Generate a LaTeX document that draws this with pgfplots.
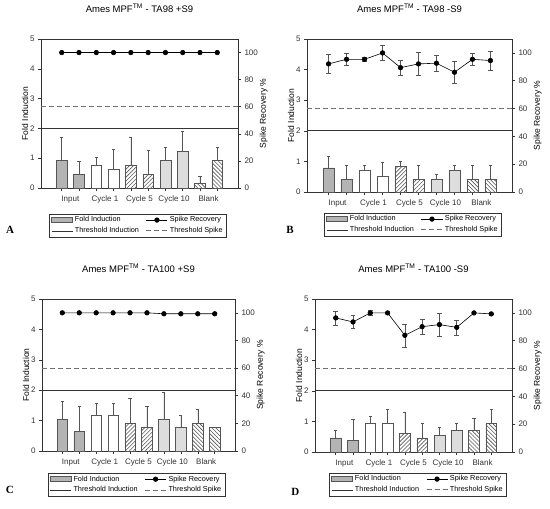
\documentclass[border=0pt]{standalone}
\usepackage{pgfplots}
\pgfplotsset{compat=1.18}
\usepackage{fontspec}
\setmainfont{Liberation Sans}
\newfontfamily\serifb{Liberation Serif}
\usetikzlibrary{patterns.meta}
\definecolor{edge}{HTML}{555555}
\definecolor{dkfill}{HTML}{B4B4B4}
\definecolor{ltfill}{HTML}{DDDDDD}
\definecolor{axc}{HTML}{333333}
\definecolor{dashc}{HTML}{707070}
\pgfplotsset{
  common/.style={scale only axis, anchor=south west, xmin=-0.2, xmax=11.2,
    tick align=outside, major tick length=3pt, minor tick length=3pt,
    tick style={axc, line width=0.5pt}, axis line style={axc, line width=0.6pt},
    label style={font=\fontsize{8.5}{10}\selectfont},
    ticklabel style={font=\fontsize{8}{9}\selectfont, text=axc},
    /pgf/number format/assume math mode=true, clip=false},
  leftax/.style={common, ymin=0, ymax=5, ytick={0,1,2,3,4,5},
    xtick={1.5,3.5,5.5,7.5,9.5},
    xticklabels={Input,Cycle 1,Cycle 5,Cycle 10,Blank},
    minor xtick={1,...,10}, major x tick style={draw=none},
    xticklabel style={yshift=-1pt},
    xtick pos=bottom, ytick pos=left, ylabel={Fold Induction}, ylabel shift=-5pt,
    title style={font=\fontsize{9.5}{11}\selectfont, at={(0.5,1)}, anchor=south, yshift=17pt}},
  rightax/.style={common, ymin=0, ymax=110, ytick={0,20,...,100},
    axis y line*=right, axis x line=none, ylabel={Spike Recovery \%}, ylabel shift=-5pt,
    legend columns=2,
    legend style={draw=axc, line width=0.5pt, font=\fontsize{7.3}{8.5}\selectfont,
      inner xsep=2pt, inner ysep=0.5pt, anchor=north, cells={anchor=west},
      /tikz/every even column/.append style={column sep=5pt}}},
  longline/.style={legend image code/.code={\draw[mark repeat=2,mark phase=2,##1] plot coordinates {(0cm,0cm) (0.37cm,0cm) (0.74cm,0cm)};}},
  barsty/.style={ybar, bar width=0.62, bar shift=0pt, draw=edge, line width=0.5pt,
    error bars/y dir=plus, error bars/y explicit,
    error bars/error bar style={edge, line width=0.5pt},
    error bars/error mark options={rotate=90, mark size=1.6pt, edge, line width=0.5pt}},
  hatchA/.style={fill=white, postaction={pattern={Lines[angle=45,distance=2.8pt,line width=0.6pt]}, pattern color=edge}},
  hatchB/.style={fill=white, postaction={pattern={Lines[angle=-45,distance=2.8pt,line width=0.6pt]}, pattern color=edge}},
  spk0/.style={longline, black, line width=0.6pt, mark=*, mark size=2.3pt, mark options={solid, fill=black}},
  spk/.style={spk0, error bars/y dir=both, error bars/y explicit,
    error bars/error bar style={edge, line width=0.5pt},
    error bars/error mark options={rotate=90, mark size=2.4pt, edge, line width=0.5pt}},
  thrI/.style={longline, axc, line width=0.6pt},
  thrS/.style={longline, dashc, line width=0.8pt, dash pattern=on 5pt off 3pt},
}
\newcommand{\foldlegend}{\addlegendimage{legend image code/.code={\draw[fill=dkfill,draw=edge,line width=0.5pt] (0cm,-0.09cm) rectangle (0.74cm,0.09cm);}}\addlegendentry{Fold Induction}}
\newcommand{\letter}[1]{\textbf{\serifb\fontsize{11}{12}\selectfont #1}}
\begin{document}
\begin{tikzpicture}
\path[use as bounding box] (0,0) rectangle (550pt,509pt);
% ---------------- Panel A
\begin{axis}[leftax, at={(41pt,321pt)}, width=197pt, height=149pt, title={Ames MPF\textsuperscript{TM} - TA98 +S9}]
\addplot[barsty, fill=dkfill] coordinates {(1,0.92) +- (0,0.78) (2,0.46) +- (0,0.45)};
\addplot[barsty, fill=white] coordinates {(3,0.76) +- (0,0.27) (4,0.62) +- (0,0.69)};
\addplot[barsty, hatchA] coordinates {(5,0.76) +- (0,0.95) (6,0.46) +- (0,0.80)};
\addplot[barsty, fill=ltfill] coordinates {(7,0.92) +- (0,0.46) (8,1.22) +- (0,0.70)};
\addplot[barsty, hatchB] coordinates {(9,0.16) +- (0,0.25) (10,0.92) +- (0,0.46)};
\addplot[thrI] coordinates {(-0.2,2) (11.2,2)};
\node at (rel axis cs:-0.157,-0.282) {\letter{A}};
\end{axis}
\begin{axis}[rightax, at={(41pt,321pt)}, width=197pt, height=149pt, legend style={at={(0.492,-0.174)}}]
\foldlegend
\addplot[spk0] coordinates {(1,100) (2,100) (3,100) (4,100) (5,100) (6,100) (7,100) (8,100) (9,100) (10,100)};
\addlegendentry{Spike Recovery}
\addlegendimage{thrI}
\addlegendentry{Threshold Induction}
\addplot[thrS] coordinates {(-0.2,60) (11.2,60)};
\addlegendentry{Threshold Spike}
\end{axis}
% ---------------- Panel B
\begin{axis}[leftax, at={(307pt,317pt)}, width=205pt, height=153pt, title={Ames MPF\textsuperscript{TM} - TA98 -S9}]
\addplot[barsty, fill=dkfill] coordinates {(1,0.79) +- (0,0.39) (2,0.41) +- (0,0.46)};
\addplot[barsty, fill=white] coordinates {(3,0.72) +- (0,0.17) (4,0.53) +- (0,0.45)};
\addplot[barsty, hatchA] coordinates {(5,0.83) +- (0,0.16) (6,0.41) +- (0,0.46)};
\addplot[barsty, fill=ltfill] coordinates {(7,0.41) +- (0,0.18) (8,0.72) +- (0,0.17)};
\addplot[barsty, hatchB] coordinates {(9,0.41) +- (0,0.46) (10,0.41) +- (0,0.46)};
\addplot[thrI] coordinates {(-0.2,2) (11.2,2)};
\node at (rel axis cs:-0.083,-0.248) {\letter{B}};
\end{axis}
\begin{axis}[rightax, at={(307pt,317pt)}, width=205pt, height=153pt, legend style={at={(0.517,-0.137)}}]
\foldlegend
\addplot[spk] coordinates {(1,92.1) +- (0,7) (2,95.4) +- (0,4) (3,95.4) +- (0,1.5) (4,100) +- (0,5.5) (5,89.4) +- (0,5.4) (6,92.1) +- (0,8.2) (7,92.6) +- (0,5.6) (8,86.1) +- (0,8.2) (9,95.4) +- (0,4) (10,94.5) +- (0,7)};
\addlegendentry{Spike Recovery}
\addlegendimage{thrI}
\addlegendentry{Threshold Induction}
\addplot[thrS] coordinates {(-0.2,60) (11.2,60)};
\addlegendentry{Threshold Spike}
\end{axis}
% ---------------- Panel C
\begin{axis}[leftax, at={(42pt,58pt)}, width=193pt, height=152pt, title={Ames MPF\textsuperscript{TM} - TA100 +S9}]
\addplot[barsty, fill=dkfill] coordinates {(1,1.03) +- (0,0.60) (2,0.64) +- (0,0.82)};
\addplot[barsty, fill=white] coordinates {(3,1.17) +- (0,0.39) (4,1.17) +- (0,0.39)};
\addplot[barsty, hatchA] coordinates {(5,0.90) +- (0,0.82) (6,0.77) +- (0,0.69)};
\addplot[barsty, fill=ltfill] coordinates {(7,1.03) +- (0,0.90) (8,0.77) +- (0,0.40)};
\addplot[barsty, hatchB] coordinates {(9,0.90) +- (0,0.46) (10,0.77) +- (0,0)};
\addplot[thrI] coordinates {(-0.2,2) (11.2,2)};
\node at (rel axis cs:-0.166,-0.257) {\letter{C}};
\end{axis}
\begin{axis}[rightax, at={(42pt,58pt)}, width=193pt, height=152pt, legend style={at={(0.49,-0.145)}}]
\foldlegend
\addplot[spk0] coordinates {(1,100) (2,100) (3,100) (4,100) (5,100) (6,100) (7,99.3) (8,99.3) (9,99.3) (10,99.3)};
\addlegendentry{Spike Recovery}
\addlegendimage{thrI}
\addlegendentry{Threshold Induction}
\addplot[thrS] coordinates {(-0.2,60) (11.2,60)};
\addlegendentry{Threshold Spike}
\end{axis}
% ---------------- Panel D
\begin{axis}[leftax, at={(315pt,57pt)}, width=197pt, height=153pt, title={Ames MPF\textsuperscript{TM} - TA100 -S9}]
\addplot[barsty, fill=dkfill] coordinates {(1,0.46) +- (0,0.25) (2,0.39) +- (0,0.67)};
\addplot[barsty, fill=white] coordinates {(3,0.93) +- (0,0.24) (4,0.93) +- (0,0.47)};
\addplot[barsty, hatchA] coordinates {(5,0.62) +- (0,0.68) (6,0.46) +- (0,0.48)};
\addplot[barsty, fill=ltfill] coordinates {(7,0.54) +- (0,0.27) (8,0.70) +- (0,0.23)};
\addplot[barsty, hatchB] coordinates {(9,0.70) +- (0,0.40) (10,0.94) +- (0,0.46)};
\addplot[thrI] coordinates {(-0.2,2) (11.2,2)};
\node at (rel axis cs:-0.10,-0.261) {\letter{D}};
\end{axis}
\begin{axis}[rightax, at={(315pt,57pt)}, width=197pt, height=153pt, legend style={at={(0.523,-0.137)}}]
\foldlegend
\addplot[spk] coordinates {(1,96.4) +- (0,5) (2,93.5) +- (0,4.5) (3,100) +- (0,2) (4,100) +- (0,0) (5,83.9) +- (0,8.3) (6,90.1) +- (0,5.5) (7,91.6) +- (0,8.5) (8,89.6) +- (0,5.4) (9,100) +- (0,0) (10,99.3) +- (0,0)};
\addlegendentry{Spike Recovery}
\addlegendimage{thrI}
\addlegendentry{Threshold Induction}
\addplot[thrS] coordinates {(-0.2,60) (11.2,60)};
\addlegendentry{Threshold Spike}
\end{axis}
\end{tikzpicture}
\end{document}
